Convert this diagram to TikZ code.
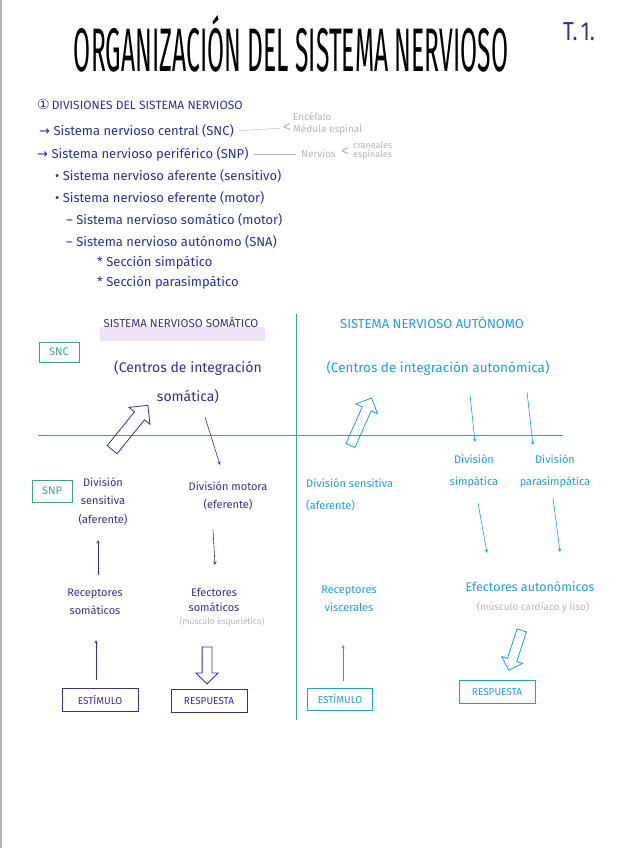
\documentclass[tikz,border=0pt]{standalone}
\usepackage{fontspec}
\setmainfont{Fira Sans}
\newfontfamily\simbolos{DejaVu Sans}
\usetikzlibrary{positioning, arrows.meta, shapes.arrows}
\definecolor{tinta}{HTML}{2B3190}
\definecolor{lila}{HTML}{3D2C8D}
\definecolor{cian}{HTML}{1F9FD8}
\definecolor{verde}{HTML}{3AA58F}
\definecolor{gris}{HTML}{B5B5B5}
\definecolor{resalte}{HTML}{F0E2F8}
\tikzset{
    every node/.style={
        inner sep=1pt,
        font=\fontsize{11}{18.5}\selectfont
    },
    item/.style={
        anchor=west,
        text=tinta,
        font=\fontsize{13}{14}\selectfont
    },
    nota/.style={
        anchor=west,
        text=gris,
        align=left,
        font=\fontsize{10}{12}\selectfont
    },
    cabecera/.style={
        font=\fontsize{11.5}{12}\selectfont
    },
    som/.style={text=lila, align=center},
    aut/.style={text=cian, align=center},
    caja/.style={
        draw, thick,
        minimum width=76pt,
        minimum height=23pt,
        font=\fontsize{10}{12}\selectfont
    },
    marco/.style={
        draw=verde, thick, text=verde,
        minimum width=40pt,
        minimum height=20pt,
        font=\fontsize{11}{12}\selectfont
    },
    hueca/.style={
        single arrow, draw, thick,
        inner xsep=0pt, inner ysep=6pt,
        single arrow head extend=7pt
    }
}

\begin{document}
\begin{tikzpicture}[x=1pt, y=-1pt]
    \useasboundingbox (0,0) rectangle (616,848);
    % borde del escaneo
    \draw [gray!60, line width=1.5pt] (1,0) -- (1,848);

    % Titulo
    \node (titulo) [anchor=base] at (291,72)
        {\resizebox{434pt}{56pt}{ORGANIZACIÓN DEL SISTEMA NERVIOSO}};
    \node (tema) [text=lila, font=\fontsize{26}{26}\selectfont] at (579,32)
        {\scalebox{0.8}[1]{T.\,1.}};

    % Lista
    \node (divisiones) [item, font=\fontsize{12}{12}\selectfont] at (36,104)
        {{\simbolos\fontsize{14}{14}\selectfont ①}\,DIVISIONES DEL SISTEMA NERVIOSO};
    \node (snc) [item] at (38,131) {{\simbolos →} Sistema nervioso central (SNC)};
    \node (snp) [item] at (36,154) {{\simbolos →} Sistema nervioso periférico (SNP)};
    \node (aferente) [item] at (54,176) {• Sistema nervioso aferente (sensitivo)};
    \node (eferente) [item] at (54,198) {• Sistema nervioso eferente (motor)};
    \node (somatico) [item] at (65,220) {– Sistema nervioso somático (motor)};
    \node (autonomo) [item] at (65,242) {– Sistema nervioso autónomo (SNA)};
    \node (simpatico) [item] at (96,263) {* Sección simpático};
    \node (parasimpatico) [item] at (96,283) {* Sección parasimpático};

    % Notas en gris
    \node (llaveSNC) [nota, font=\fontsize{16}{16}\selectfont] at (282,128) {<};
    \node (encefalo) [nota] at (292,124) {Encéfalo\\Médula espinal};
    \node (nervios) [nota] at (300,154) {Nervios};
    \node (llaveSNP) [nota, font=\fontsize{16}{16}\selectfont] at (340,152) {<};
    \node (craneales) [nota, font=\fontsize{9}{9}\selectfont] at (352,151) {craneales\\espinales};
    \draw [gris, shorten <=4pt, shorten >=2pt] (snc.east) -- (llaveSNC.west);
    \draw [gris, shorten <=4pt, shorten >=4pt] (snp.east) -- (nervios.west);

    % Cuadro
    \fill [resalte] (100,327) rectangle (265,341);
    \draw [verde, thick] (296,314) -- (296,720);
    \draw [verde, thick] (38,435) -- (563,435);
    \node (cabSom) [cabecera, text=lila] at (181,322) {SISTEMA NERVIOSO SOMÁTICO};
    \node (cabAut) [cabecera, text=cian, font=\fontsize{13}{14}\selectfont] at (432,323) {SISTEMA NERVIOSO AUTÓNOMO};
    \node (sncBox) [marco] at (59,352) {SNC};
    \node (snpBox) [marco, minimum height=22pt] at (52,491) {SNP};

    % Somatico
    \node (centrosSom) [som, font=\fontsize{14}{29}\selectfont] at (188,382)
        {(Centros de integración\\somática)};
    \node (sensSom) [som] at (103,501) {División\\sensitiva\\(aferente)};
    \node (motora) [som] at (228,496) {División motora\\(eferente)};
    \node (recSom) [som] at (95,602) {Receptores\\somáticos};
    \node (efeSom) [som, font=\fontsize{11}{15}\selectfont] at (214,600) {Efectores\\somáticos};
    \node (musEsq) [text=gris, font=\fontsize{8.5}{10}\selectfont] at (222,622) {(músculo esquelético)};
    \node (estSom) [caja, lila] at (100,700) {ESTÍMULO};
    \node (resSom) [caja, lila] at (209,701) {RESPUESTA};

    % Autonomo
    \node (centrosAut) [aut, font=\fontsize{13.5}{14}\selectfont] at (438,368)
        {(Centros de integración autonómica)};
    \node (sensAut) [aut, anchor=west, align=left, font=\fontsize{11}{22}\selectfont] at (305,495)
        {División sensitiva\\(aferente)};
    \node (simp) [aut, font=\fontsize{11}{22}\selectfont] at (474,471) {División\\simpática};
    \node (parasimp) [aut, font=\fontsize{11}{22}\selectfont] at (555,471) {División\\parasimpática};
    \node (recVis) [aut] at (349,599) {Receptores\\viscerales};
    \node (efeAut) [aut, font=\fontsize{12.5}{14}\selectfont] at (530,587) {Efectores autonómicos};
    \node (musCar) [text=gris, font=\fontsize{10}{12}\selectfont] at (533,607) {(músculo cardíaco y liso)};
    \node (estAut) [caja, cian, minimum width=65pt, minimum height=22pt] at (340,699) {ESTÍMULO};
    \node (resAut) [caja, cian] at (497,692) {RESPUESTA};

    % Flechas huecas
    \node (flechaSens) [hueca, lila, minimum height=57pt, rotate=51] at (128,430) {};
    \node (flechaSensAut) [hueca, cian, inner ysep=4.5pt, minimum height=52pt, rotate=66] at (360,424) {};
    \node (flechaResp) [hueca, lila, inner ysep=4.5pt, single arrow head extend=6pt, minimum height=37pt, rotate=-90] at (207,663) {};
    \node (flechaRespAut) [hueca, cian, inner ysep=4.5pt, single arrow head extend=6pt, minimum height=42pt, rotate=-108] at (516,648) {};

    % Extremos de las flechas finas
    \coordinate (motoraIni) at (205,417);
    \coordinate (motoraFin) at (220,465);
    \coordinate (recSomIni) at (98,575);
    \coordinate (recSomFin) at (98,540);
    \coordinate (efeSomIni) at (213,530);
    \coordinate (efeSomFin) at (215,565);
    \coordinate (estSomIni) at (96,680);
    \coordinate (estSomFin) at (96,640);
    \coordinate (simpIni) at (470,395);
    \coordinate (simpFin) at (475,442);
    \coordinate (paraIni) at (527,392);
    \coordinate (paraFin) at (533,445);
    \coordinate (efeSimpIni) at (478,503);
    \coordinate (efeSimpFin) at (487,553);
    \coordinate (efeParaIni) at (553,498);
    \coordinate (efeParaFin) at (560,552);
    \coordinate (estAutIni) at (343,681);
    \coordinate (estAutFin) at (343,645);

    % Flechas finas
    \path [-stealth, semithick, lila]
        (motoraIni) edge (motoraFin)
        (recSomIni) edge (recSomFin)
        (efeSomIni) edge (efeSomFin)
        (estSomIni) edge (estSomFin)
    ;
    \path [-stealth, semithick, cian]
        (simpIni) edge (simpFin)
        (paraIni) edge (paraFin)
        (efeSimpIni) edge (efeSimpFin)
        (efeParaIni) edge (efeParaFin)
        (estAutIni) edge (estAutFin)
    ;
\end{tikzpicture}
\end{document}
